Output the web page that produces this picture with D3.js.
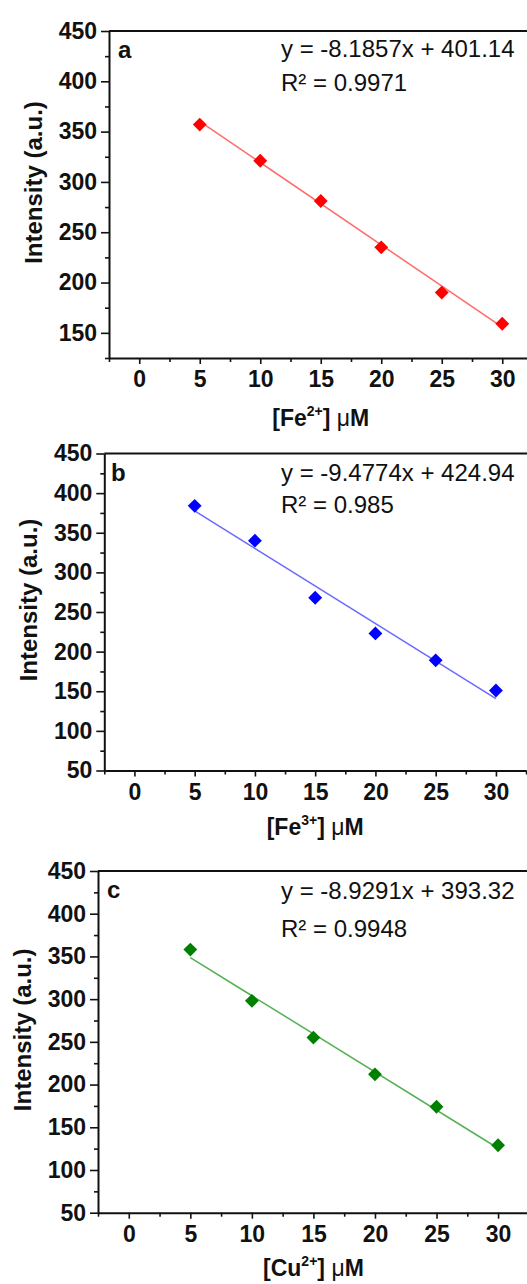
<!DOCTYPE html>
<html>
<head>
<meta charset="utf-8">
<script src="https://cdn.jsdelivr.net/npm/d3@7"></script>
<style>
  html, body { margin: 0; padding: 0; background: #fff; }
  svg { display: block; }
  text { font-family: Arial, "Liberation Sans", sans-serif; fill: #111; }
</style>
</head>
<body>
<svg id="chart" width="527" height="1284"></svg>
<script>
// Concentrations (µM) shared by the three titrations
const concentrations = [5, 10, 15, 20, 25, 30];

// Fluorescence intensity (a.u.) for each ion
const intensityFe2 = [357, 321, 281, 235, 190, 159];
const intensityFe3 = [384, 340, 268, 223, 189, 151];
const intensityCu2 = [358, 298, 255, 212, 174, 129];

// Linear fits reported on each panel
const slopes = [-8.1857, -9.4774, -8.9291];
const intercepts = [401.14, 424.94, 393.32];
const r2Labels = ["0.9971", "0.985", "0.9948"];

// Axis ticks
const xTicks = [0, 5, 10, 15, 20, 25, 30];
const xMinorTicks = [-2.5, 2.5, 7.5, 12.5, 17.5, 22.5, 27.5, 32.5];
const yTicksA = [150, 200, 250, 300, 350, 400, 450];
const yTicksBC = [50, 100, 150, 200, 250, 300, 350, 400, 450];

const panelLetters = ["a", "b", "c"];
const ionBase = ["Fe", "Fe", "Cu"];
const ionCharge = ["2+", "3+", "2+"];

const panels = [
  { data: intensityFe2, yDomain: [125, 450], yTicks: yTicksA, color: "#ff0000", lineColor: "#ff6a6a",
    left: 109, top: 31, bottom: 358, xUnit: 12.1, eqDy1: 26, eqDy2: 60, letterX: 118, titleDy: 68 },
  { data: intensityFe3, yDomain: [50, 450], yTicks: yTicksBC, color: "#0000ff", lineColor: "#6a6aff",
    left: 104.3, top: 453.5, bottom: 770.5, xUnit: 12.05, eqDy1: 27, eqDy2: 59, letterX: 111, titleDy: 64 },
  { data: intensityCu2, yDomain: [50, 450], yTicks: yTicksBC, color: "#008000", lineColor: "#55b055",
    left: 98, top: 871, bottom: 1212.7, xUnit: 12.31, eqDy1: 28, eqDy2: 66, letterX: 107, titleDy: 63 }
];

const svg = d3.select("#chart");
const W = 527;

panels.forEach((p, i) => {
  const x = d3.scaleLinear().domain([-2.5, 32.5]).range([p.left, p.left + 35 * p.xUnit]);
  const y = d3.scaleLinear().domain(p.yDomain).range([p.bottom, p.top]);
  const g = svg.append("g");

  const yMinor = d3.range(p.yDomain[0], 451, 25).filter(v => p.yTicks.indexOf(v) < 0);

  // minor ticks
  g.append("g").attr("transform", `translate(0,${p.bottom})`)
    .call(d3.axisBottom(x).tickValues(xMinorTicks.filter(v => x(v) <= W)).tickSize(4).tickSizeOuter(0).tickFormat(""))
    .call(s => s.select(".domain").remove());
  g.append("g").attr("transform", `translate(${p.left},0)`)
    .call(d3.axisLeft(y).tickValues(yMinor).tickSize(4).tickSizeOuter(0).tickFormat(""))
    .call(s => s.select(".domain").remove());

  // major axes
  const xa = g.append("g").attr("transform", `translate(0,${p.bottom})`)
    .call(d3.axisBottom(x).tickValues(xTicks).tickSize(6).tickSizeOuter(0).tickPadding(6));
  xa.selectAll("text").attr("font-size", 23).attr("font-weight", "bold").attr("dy", "0.71em").attr("y", 13);
  const ya = g.append("g").attr("transform", `translate(${p.left},0)`)
    .call(d3.axisLeft(y).tickValues(p.yTicks).tickSize(8).tickSizeOuter(0).tickPadding(4));
  ya.selectAll("text").attr("font-size", 23).attr("font-weight", "bold");

  g.selectAll(".tick line").attr("stroke", "#111").attr("stroke-width", 1.6);
  g.selectAll(".domain").attr("stroke", "#111").attr("stroke-width", 2);

  // frame across the top
  g.append("line").attr("x1", p.left).attr("x2", W + 10).attr("y1", p.top).attr("y2", p.top)
    .attr("stroke", "#111").attr("stroke-width", 2);

  // fitted line from the reported equation
  const fitX = [concentrations[0], concentrations[concentrations.length - 1]];
  g.append("line")
    .attr("x1", x(fitX[0])).attr("y1", y(slopes[i] * fitX[0] + intercepts[i]))
    .attr("x2", x(fitX[1])).attr("y2", y(slopes[i] * fitX[1] + intercepts[i]))
    .attr("stroke", p.lineColor).attr("stroke-width", 1.5);

  // diamond markers
  const diamond = d3.symbol().type(d3.symbolSquare).size(96);
  g.selectAll("path.pt").data(concentrations).join("path").attr("class", "pt")
    .attr("d", diamond)
    .attr("transform", (c, k) => `translate(${x(c)},${y(p.data[k])}) rotate(45)`)
    .attr("fill", p.color);

  // panel letter
  g.append("text").attr("x", p.letterX).attr("y", p.top + 27)
    .attr("font-size", 24).attr("font-weight", "bold").text(panelLetters[i]);

  // equation and R²
  const sign = intercepts[i] >= 0 ? "+" : "-";
  g.append("text").attr("x", 281).attr("y", p.top + p.eqDy1).attr("font-size", 24)
    .text(`y = ${slopes[i]}x ${sign} ${Math.abs(intercepts[i])}`);
  g.append("text").attr("x", 281).attr("y", p.top + p.eqDy2).attr("font-size", 24)
    .text(`R² = ${r2Labels[i]}`);

  // x-axis title
  const xt = g.append("text").attr("x", x(15)).attr("y", p.bottom + p.titleDy)
    .attr("text-anchor", "middle").attr("font-size", 23).attr("font-weight", "bold");
  xt.append("tspan").text("[" + ionBase[i]);
  xt.append("tspan").attr("dy", -10).attr("font-size", 14).text(ionCharge[i]);
  xt.append("tspan").attr("dy", 10).text("] ");
  xt.append("tspan").attr("font-weight", "normal").text("\u03BC");
  xt.append("tspan").text("M");

  // y-axis title
  g.append("text")
    .attr("transform", `translate(${p.left - 67},${(p.top + p.bottom) / 2 - 12}) rotate(-90)`)
    .attr("text-anchor", "middle").attr("font-size", 24).attr("font-weight", "bold")
    .text("Intensity (a.u.)");
});
</script>
</body>
</html>
